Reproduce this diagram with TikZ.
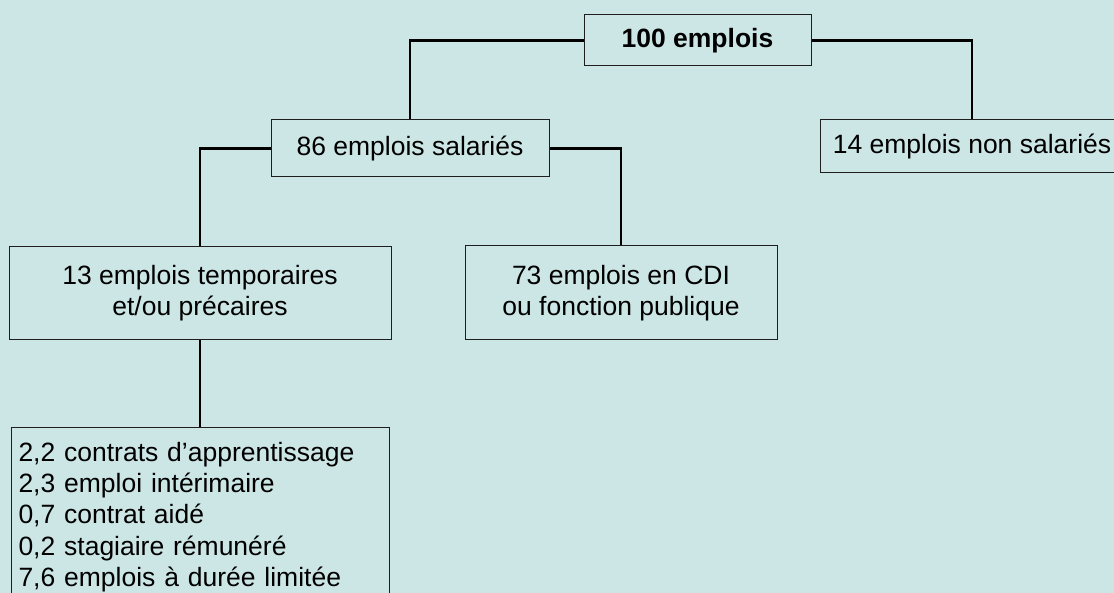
\documentclass[tikz,border=0pt]{standalone}
\usepackage{fontspec}
\setmainfont{Liberation Sans}
\definecolor{bg}{RGB}{204,230,230}
\definecolor{edge}{RGB}{30,30,30}
\begin{document}
\begin{tikzpicture}[x=1pt,y=-1pt,
  box/.style={draw=edge,line width=1pt,fill=bg,inner sep=0pt,align=center,
    font=\fontsize{26.5}{31.25}\selectfont},
  conn/.style={draw=black,line width=2.2pt}]
\useasboundingbox (0,0) rectangle (1114,593);
\fill[bg] (0,0) rectangle (1114,593);
\node[box,minimum width=227pt,minimum height=51pt,
  font=\fontsize{26.5}{31.25}\selectfont\bfseries] (top) at (697.5,40.5) {100 emplois};
\node[box,minimum width=278pt,minimum height=57pt] (sal) at (410,148.5) {86 emplois salariés};
\node[box,minimum width=304pt,minimum height=53pt] (non) at (972,146.5) {14 emplois non salariés};
\node[box,minimum width=382pt,minimum height=93pt] (tmp) at (200,293.5) {13 emplois temporaires\\et/ou précaires};
\node[box,minimum width=312pt,minimum height=94pt] (cdi) at (621,293) {73 emplois en CDI\\ou fonction publique};
\node[box,align=left,anchor=north west,text width=364pt,inner xsep=7pt,inner ysep=14.7pt] (list) at (11,427)
  {2,2 contrats d’apprentissage\\2,3 emploi intérimaire\\0,7 contrat aidé\\0,2 stagiaire rémunéré\\7,6 emplois à durée limitée};
\draw[conn] (top.west) -| (sal.north);
\draw[conn] (top.east) -| (non.north);
\draw[conn] (sal.west) -| (tmp.north);
\draw[conn] (sal.east) -| (cdi.north);
\draw[conn] (tmp.south) -- (tmp.south |- list.north);
\end{tikzpicture}
\end{document}
